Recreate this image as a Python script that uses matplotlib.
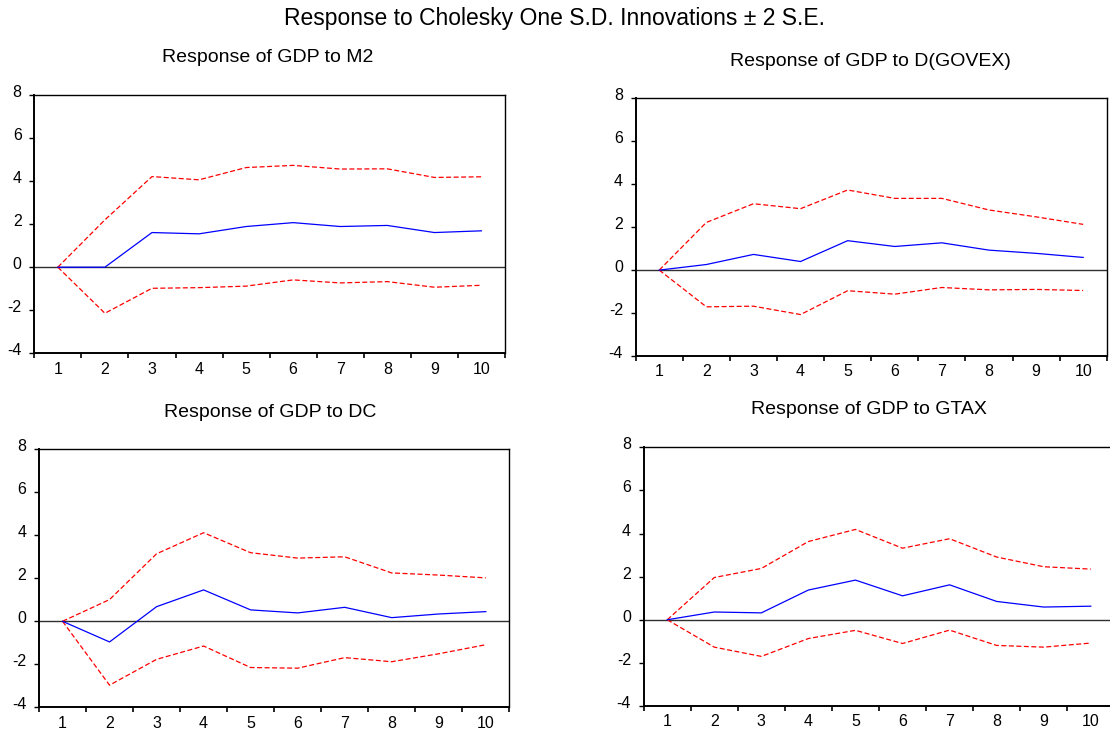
#!/usr/bin/env python3
"""Impulse responses of GDP (Cholesky one S.D. innovations, +/- 2 S.E.)."""

import matplotlib

matplotlib.use("Agg")
import matplotlib.pyplot as plt
import matplotlib.transforms as mtransforms
import numpy as np

plt.rcParams["font.family"] = ["Liberation Sans", "DejaVu Sans"]

periods = np.arange(1, 11)

titles = [
    "Response of GDP to M2",
    "Response of GDP to D(GOVEX)",
    "Response of GDP to DC",
    "Response of GDP to GTAX",
]

# point responses
resp_m2 = [0.0, 0.0, 1.61, 1.55, 1.89, 2.07, 1.89, 1.94, 1.61, 1.69]
resp_govex = [0.0, 0.26, 0.73, 0.40, 1.37, 1.10, 1.27, 0.93, 0.78, 0.59]
resp_dc = [0.0, -0.96, 0.68, 1.46, 0.53, 0.39, 0.65, 0.17, 0.34, 0.45]
resp_gtax = [0.0, 0.36, 0.32, 1.38, 1.84, 1.11, 1.62, 0.85, 0.59, 0.63]

# +2 S.E. bands
upper_m2 = [0.0, 2.20, 4.21, 4.06, 4.63, 4.73, 4.56, 4.57, 4.17, 4.20]
upper_govex = [0.0, 2.22, 3.09, 2.86, 3.73, 3.34, 3.34, 2.80, 2.48, 2.13]
upper_dc = [0.0, 1.01, 3.14, 4.12, 3.19, 2.94, 3.00, 2.25, 2.15, 2.02]
upper_gtax = [0.0, 1.96, 2.38, 3.63, 4.19, 3.32, 3.76, 2.91, 2.46, 2.35]

# -2 S.E. bands
lower_m2 = [0.0, -2.14, -0.98, -0.95, -0.88, -0.59, -0.73, -0.67, -0.93, -0.84]
lower_govex = [0.0, -1.71, -1.68, -2.07, -0.96, -1.12, -0.81, -0.92, -0.90, -0.95]
lower_dc = [0.0, -2.97, -1.77, -1.15, -2.15, -2.18, -1.69, -1.88, -1.51, -1.09]
lower_gtax = [0.0, -1.27, -1.70, -0.87, -0.49, -1.10, -0.48, -1.19, -1.27, -1.08]

y_ticks = [-4, -2, 0, 2, 4, 6, 8]

W, H = 1110, 736


def px_axes(fig, left, top, right, bottom):
    return fig.add_axes([left / W, 1 - bottom / H, (right - left) / W, (bottom - top) / H])


def draw_panel(ax, title, resp, upper, lower, title_xy, fig):
    ax.axhline(0, color="#303030", lw=1.0, zorder=1)
    ax.plot(periods, upper, color="red", lw=0.9, ls=(0, (4, 2)), zorder=2)
    ax.plot(periods, lower, color="red", lw=0.9, ls=(0, (4, 2)), zorder=2)
    ax.plot(periods, resp, color="blue", lw=0.9, zorder=3)
    ax.set_xlim(0.5, 10.5)
    ax.set_ylim(-4, 8)
    ax.set_yticks(y_ticks)
    ax.set_yticklabels([str(t) for t in y_ticks])
    ax.set_xticks(periods)
    ax.set_xticklabels([str(p) for p in periods])
    ax.set_xticks(np.arange(0.5, 11, 1), minor=True)
    ax.tick_params(axis="x", which="major", length=0, pad=6, labelsize=11.5)
    ax.tick_params(axis="x", which="minor", length=3.6, width=1.2, direction="out")
    ax.tick_params(axis="y", length=3.6, width=1.0, pad=5.5, labelsize=11.5)
    # EViews puts the y labels a touch above their ticks
    shift = mtransforms.ScaledTranslation(0, 4 / 100, fig.dpi_scale_trans)
    for lbl in ax.get_yticklabels():
        lbl.set_transform(lbl.get_transform() + shift)
    for side in ("left", "bottom"):
        ax.spines[side].set_linewidth(1.4)
    for side in ("top", "right"):
        ax.spines[side].set_linewidth(1.0)
    fig.text(title_xy[0] / W, 1 - title_xy[1] / H, title, ha="center", va="center", fontsize=14)


def main() -> None:
    fig = plt.figure(figsize=(W / 100, H / 100), dpi=100)
    fig.text(0.5, 1 - 19 / H, "Response to Cholesky One S.D. Innovations \u00b1 2 S.E.",
             ha="center", va="center", fontsize=16.5)

    boxes = [
        (34.3, 95.0, 505.0, 353.3),
        (635.7, 98.3, 1106.7, 356.0),
        (39.0, 449.3, 509.3, 707.3),
        (643.7, 447.3, 1114.3, 706.0),
    ]
    title_pos = [(268, 58), (870, 62), (270, 412), (869, 410)]
    resps = [resp_m2, resp_govex, resp_dc, resp_gtax]
    uppers = [upper_m2, upper_govex, upper_dc, upper_gtax]
    lowers = [lower_m2, lower_govex, lower_dc, lower_gtax]

    for box, title, r, u, lo, tp in zip(boxes, titles, resps, uppers, lowers, title_pos):
        ax = px_axes(fig, *box)
        draw_panel(ax, title, r, u, lo, tp, fig)

    fig.savefig("out.png", dpi=100)


if __name__ == "__main__":
    main()
